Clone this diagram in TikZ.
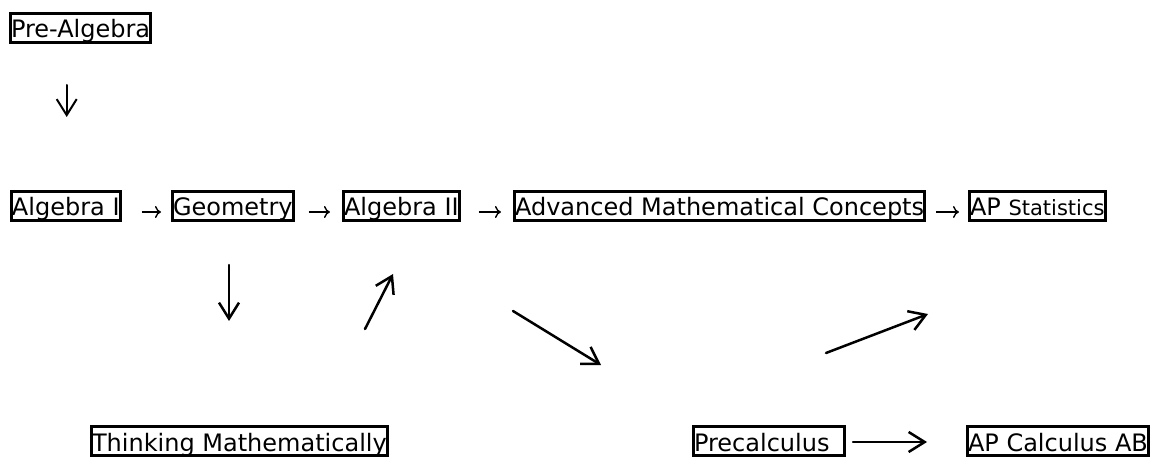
\documentclass[tikz,border=0pt]{standalone}
\usepackage{fontspec}
\setmainfont{DejaVu Sans}
\usetikzlibrary{arrows.meta}
\begin{document}
\begin{tikzpicture}[x=1pt,y=1pt,
  box/.style={draw, line width=3pt, inner xsep=0.5pt, inner ysep=0pt,
    text height=24.5pt, text depth=4.5pt, anchor=base west,
    font=\fontsize{24pt}{28pt}\selectfont},
  tarrow/.style={line width=1.4pt, -{To[length=6pt,width=12pt]}},
  barrow/.style={line width=2.5pt, line cap=round, -{Straight Barb[length=16pt,width=20pt]}}]
\path[use as bounding box] (0,0) rectangle (1157,-457);
\clip (0,0) rectangle (1157,-457);
% nodes
\node[box] (pre)  at (9,-37.7)  {Pre-Algebra};
\node[box] (alg1) at (10,-216)  {Algebra I};
\node[box] (geo)  at (171,-216) {Geometry};
\node[box] (alg2) at (342,-216) {Algebra II};
\node[box] (amc)  at (513,-216) {Advanced Mathematical Concepts};
\node[box] (aps)  at (968,-216) {AP {\fontsize{21pt}{24pt}\selectfont Statistics}};
\node[box] (tm)   at (90,-451)  {Thinking Mathematically};
\node[box, text width=150pt, align=left] (prec) at (692,-451) {Precalculus};
\node[box] (apc)  at (966,-451) {AP Calculus AB};
% top-row text arrows
\draw[tarrow, shorten <=20pt, shorten >=10pt] ([yshift=4pt]alg1.base east) -- ([yshift=4pt]geo.base west);
\draw[tarrow, shorten <=14pt, shorten >=12pt] ([yshift=4pt]geo.base east) -- ([yshift=4pt]alg2.base west);
\draw[tarrow, shorten <=18pt, shorten >=12pt] ([yshift=4pt]alg2.base east) -- ([yshift=4pt]amc.base west);
\draw[tarrow, shorten <=10pt, shorten >=9pt] ([yshift=4pt]amc.base east) -- ([yshift=4pt]aps.base west);
% free arrows
\coordinate (a1s) at (66.7,-85);  \coordinate (a1e) at (66.7,-117);
\coordinate (a2s) at (229,-265);  \coordinate (a2e) at (229,-321);
\coordinate (a3s) at (365,-329);  \coordinate (a3e) at (393,-274);
\coordinate (a4s) at (513,-311);  \coordinate (a4e) at (601,-365);
\coordinate (a5s) at (826,-353);  \coordinate (a5e) at (928,-314);
\draw[barrow, line width=2pt] (a1s) -- (a1e);
\draw[barrow] (a2s) -- (a2e);
\draw[barrow] (a3s) -- (a3e);
\draw[barrow] (a4s) -- (a4e);
\draw[barrow] (a5s) -- (a5e);
% bottom arrow
\draw[barrow, shorten <=7pt, shorten >=39pt] ([yshift=9pt]prec.base east) -- ([yshift=9pt]apc.base west);
\end{tikzpicture}
\end{document}
